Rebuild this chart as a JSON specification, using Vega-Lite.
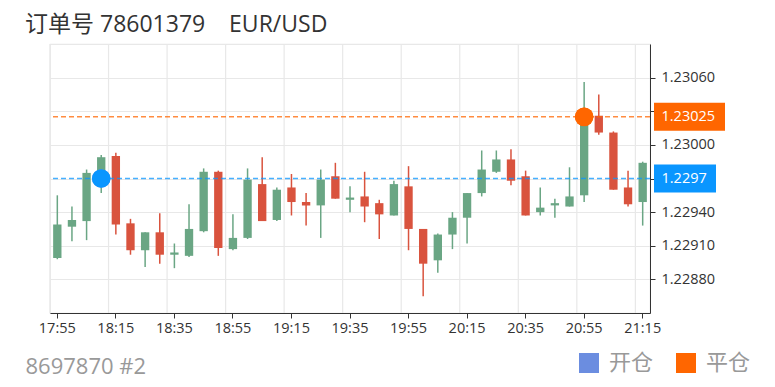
{
  "$schema": "https://vega.github.io/schema/vega-lite/v6.json",
  "width": 600,
  "height": 269,
  "autosize": {"type": "none"},
  "padding": {"left": 50, "top": 44, "right": 125, "bottom": 74},
  "background": "white",
  "config": {
    "font": "Open Sans, Noto Sans CJK SC",
    "view": {"stroke": "#e8e8e8", "strokeWidth": 1.2},
    "axis": {"title": null}
  },
  "title": {
    "text": "订单号 78601379\u00a0\u00a0\u00a0\u00a0EUR/USD",
    "anchor": "start",
    "frame": "group",
    "dx": -25,
    "dy": 22,
    "offset": 10,
    "baseline": "alphabetic",
    "fontSize": 23,
    "fontWeight": "normal",
    "color": "#333333",
    "font": "Open Sans, Noto Sans CJK SC"
  },
  "datasets": {
    "candles": [
      {"t": "17:55", "open": 1.22899, "high": 1.22955, "low": 1.22898, "close": 1.22929},
      {"t": "18:00", "open": 1.22927, "high": 1.22945, "low": 1.22914, "close": 1.22933},
      {"t": "18:05", "open": 1.22932, "high": 1.22978, "low": 1.22915, "close": 1.22975},
      {"t": "18:10", "open": 1.22964, "high": 1.22991, "low": 1.22957, "close": 1.22989},
      {"t": "18:15", "open": 1.2299, "high": 1.22993, "low": 1.2292, "close": 1.22929},
      {"t": "18:20", "open": 1.2293, "high": 1.22934, "low": 1.22902, "close": 1.22906},
      {"t": "18:25", "open": 1.22906, "high": 1.22922, "low": 1.22891, "close": 1.22922},
      {"t": "18:30", "open": 1.22922, "high": 1.22939, "low": 1.22894, "close": 1.22902},
      {"t": "18:35", "open": 1.22902, "high": 1.22912, "low": 1.2289, "close": 1.22904},
      {"t": "18:40", "open": 1.22901, "high": 1.22947, "low": 1.229, "close": 1.22925},
      {"t": "18:45", "open": 1.22923, "high": 1.22979, "low": 1.22922, "close": 1.22976},
      {"t": "18:50", "open": 1.22976, "high": 1.22977, "low": 1.22901, "close": 1.22908},
      {"t": "18:55", "open": 1.22907, "high": 1.22938, "low": 1.22906, "close": 1.22917},
      {"t": "19:00", "open": 1.22917, "high": 1.22979, "low": 1.22916, "close": 1.22969},
      {"t": "19:05", "open": 1.22965, "high": 1.22989, "low": 1.22932, "close": 1.22932},
      {"t": "19:10", "open": 1.22933, "high": 1.22962, "low": 1.22932, "close": 1.2296},
      {"t": "19:15", "open": 1.22962, "high": 1.22974, "low": 1.22937, "close": 1.22949},
      {"t": "19:20", "open": 1.22949, "high": 1.22957, "low": 1.22928, "close": 1.22946},
      {"t": "19:25", "open": 1.22946, "high": 1.22978, "low": 1.22917, "close": 1.22969},
      {"t": "19:30", "open": 1.22972, "high": 1.22984, "low": 1.22952, "close": 1.22952},
      {"t": "19:35", "open": 1.22951, "high": 1.22963, "low": 1.2294, "close": 1.22953},
      {"t": "19:40", "open": 1.22954, "high": 1.22976, "low": 1.22931, "close": 1.22945},
      {"t": "19:45", "open": 1.22948, "high": 1.22951, "low": 1.22916, "close": 1.22938},
      {"t": "19:50", "open": 1.22937, "high": 1.22968, "low": 1.22937, "close": 1.22965},
      {"t": "19:55", "open": 1.22963, "high": 1.22981, "low": 1.22906, "close": 1.22925},
      {"t": "20:00", "open": 1.22925, "high": 1.22925, "low": 1.22865, "close": 1.22894},
      {"t": "20:05", "open": 1.22897, "high": 1.22921, "low": 1.22886, "close": 1.2292},
      {"t": "20:10", "open": 1.2292, "high": 1.2294, "low": 1.22907, "close": 1.22935},
      {"t": "20:15", "open": 1.22935, "high": 1.22957, "low": 1.22912, "close": 1.22957},
      {"t": "20:20", "open": 1.22957, "high": 1.22995, "low": 1.22954, "close": 1.22978},
      {"t": "20:25", "open": 1.22976, "high": 1.22995, "low": 1.22975, "close": 1.22987},
      {"t": "20:30", "open": 1.22987, "high": 1.22996, "low": 1.22964, "close": 1.22968},
      {"t": "20:35", "open": 1.22972, "high": 1.22977, "low": 1.22937, "close": 1.22937},
      {"t": "20:40", "open": 1.2294, "high": 1.22962, "low": 1.22937, "close": 1.22944},
      {"t": "20:45", "open": 1.22946, "high": 1.22952, "low": 1.22935, "close": 1.22948},
      {"t": "20:50", "open": 1.22945, "high": 1.2298, "low": 1.22945, "close": 1.22954},
      {"t": "20:55", "open": 1.22955, "high": 1.23056, "low": 1.22949, "close": 1.23027},
      {"t": "21:00", "open": 1.23026, "high": 1.23045, "low": 1.23009, "close": 1.23011},
      {"t": "21:05", "open": 1.23011, "high": 1.23012, "low": 1.2296, "close": 1.2296},
      {"t": "21:10", "open": 1.22962, "high": 1.22977, "low": 1.22945, "close": 1.22947},
      {"t": "21:15", "open": 1.22949, "high": 1.22985, "low": 1.22928, "close": 1.22984}
    ],
    "trades": [
      {"t": "18:10", "price": 1.2297, "type": "开仓"},
      {"t": "20:55", "price": 1.23025, "type": "平仓"}
    ]
  },
  "data": {"name": "candles"},
  "layer": [
    {
      "transform": [{"filter": {"field": "t", "oneOf": ["17:55", "18:15", "18:35", "18:55", "19:15", "19:35", "19:55", "20:15", "20:35", "20:55", "21:15"]}}],
      "mark": {"type": "rule", "color": "#e8e8e8", "strokeWidth": 1.2},
      "encoding": {
        "x": {"field": "t", "type": "ordinal", "bandPosition": 0}
      }
    },
    {
      "mark": {"type": "rule", "strokeWidth": 1.5},
      "encoding": {
        "x": {
          "field": "t",
          "type": "ordinal",
          "scale": {"type": "band", "paddingInner": 0, "paddingOuter": 0},
          "title": "8697870 #2",
          "axis": {
            "values": ["17:55", "18:15", "18:35", "18:55", "19:15", "19:35", "19:55", "20:15", "20:35", "20:55", "21:15"],
            "grid": false,
            "labelAngle": 0,
            "labelAlign": "center",
            "labelBaseline": "top",
            "labelFontSize": 14.5,
            "labelColor": "#333333",
            "labelPadding": 3,
            "tickColor": "#333333",
            "tickSize": 5,
            "domainColor": "#333333",
            "titleAnchor": "start",
            "titleAlign": "left",
            "titleX": -25,
            "titleY": 60,
            "titleBaseline": "alphabetic",
            "titleFontSize": 22,
            "titleFontWeight": "normal",
            "titleColor": "#999999"
          }
        },
        "y": {
          "field": "low",
          "type": "quantitative",
          "scale": {"domain": [1.2285, 1.2309], "zero": false, "nice": false},
          "axis": {
            "orient": "right",
            "values": [1.2288, 1.2291, 1.2294, 1.2297, 1.23, 1.2303, 1.2306],
            "format": ".5f",
            "labelExpr": "datum.value == 1.2297 || datum.value == 1.2303 ? '' : datum.label",
            "labelFontSize": 14.5,
            "labelColor": "#333333",
            "labelPadding": 6,
            "tickColor": "#333333",
            "tickSize": 5,
            "domainColor": "#333333",
            "grid": true,
            "gridColor": "#e8e8e8",
            "gridWidth": 1.2
          }
        },
        "y2": {"field": "high"},
        "color": {"condition": {"test": "datum.close >= datum.open", "value": "#6aa684"}, "value": "#d9533e"}
      }
    },
    {
      "mark": {"type": "bar", "width": {"band": 0.57}},
      "encoding": {
        "x": {"field": "t", "type": "ordinal"},
        "y": {"field": "open", "type": "quantitative"},
        "y2": {"field": "close"},
        "color": {"condition": {"test": "datum.close >= datum.open", "value": "#6aa684"}, "value": "#d9533e"}
      }
    },
    {
      "data": {"name": "trades"},
      "mark": {"type": "rule", "strokeDash": [5, 3], "strokeWidth": 1.5, "opacity": 0.75},
      "encoding": {
        "y": {"field": "price", "type": "quantitative"},
        "color": {"condition": {"test": "datum.type === '开仓'", "value": "#0a96ff"}, "value": "#ff6600"}
      }
    },
    {
      "data": {"name": "trades"},
      "mark": {"type": "point", "filled": true, "shape": "circle", "size": 342, "opacity": 1},
      "encoding": {
        "x": {"field": "t", "type": "ordinal"},
        "y": {"field": "price", "type": "quantitative"},
        "color": {
          "field": "type",
          "type": "nominal",
          "scale": {"domain": ["开仓", "平仓"], "range": ["#6b8de0", "#ff6600"]},
          "legend": {
            "title": null,
            "orient": "none",
            "legendX": 528,
            "legendY": 308,
            "direction": "horizontal",
            "symbolType": "square",
            "symbolSize": 400,
            "symbolStrokeWidth": 0,
            "labelFontSize": 22,
            "labelColor": "#999999",
            "labelOffset": 9,
            "columnPadding": 21,
            "padding": 0
          }
        }
      }
    },
    {
      "data": {"name": "trades"},
      "mark": {"type": "point", "filled": true, "shape": "circle", "size": 346, "opacity": 1},
      "encoding": {
        "x": {"field": "t", "type": "ordinal"},
        "y": {"field": "price", "type": "quantitative"},
        "color": {"condition": {"test": "datum.type === '开仓'", "value": "#0a96ff"}, "value": "#ff6600"}
      }
    },
    {
      "data": {"name": "trades"},
      "transform": [{"filter": "datum.type === '平仓'"}],
      "mark": {"type": "rect", "color": "#ff6600", "xOffset": 4, "x2Offset": 75, "yOffset": -14, "y2Offset": 14},
      "encoding": {
        "x": {"value": "width"},
        "x2": {"value": "width"},
        "y": {"field": "price", "type": "quantitative"},
        "y2": {"field": "price"}
      }
    },
    {
      "data": {"name": "trades"},
      "transform": [{"filter": "datum.type === '开仓'"}],
      "mark": {"type": "rect", "color": "#0a96ff", "xOffset": 4, "x2Offset": 66, "yOffset": -14, "y2Offset": 14},
      "encoding": {
        "x": {"value": "width"},
        "x2": {"value": "width"},
        "y": {"field": "price", "type": "quantitative"},
        "y2": {"field": "price"}
      }
    },
    {
      "data": {"name": "trades"},
      "mark": {"type": "text", "align": "left", "baseline": "middle", "dx": 11.5, "fontSize": 14.5, "color": "white"},
      "encoding": {
        "x": {"value": "width"},
        "y": {"field": "price", "type": "quantitative"},
        "text": {"field": "price", "type": "quantitative", "format": ".6~g"}
      }
    }
  ]
}
